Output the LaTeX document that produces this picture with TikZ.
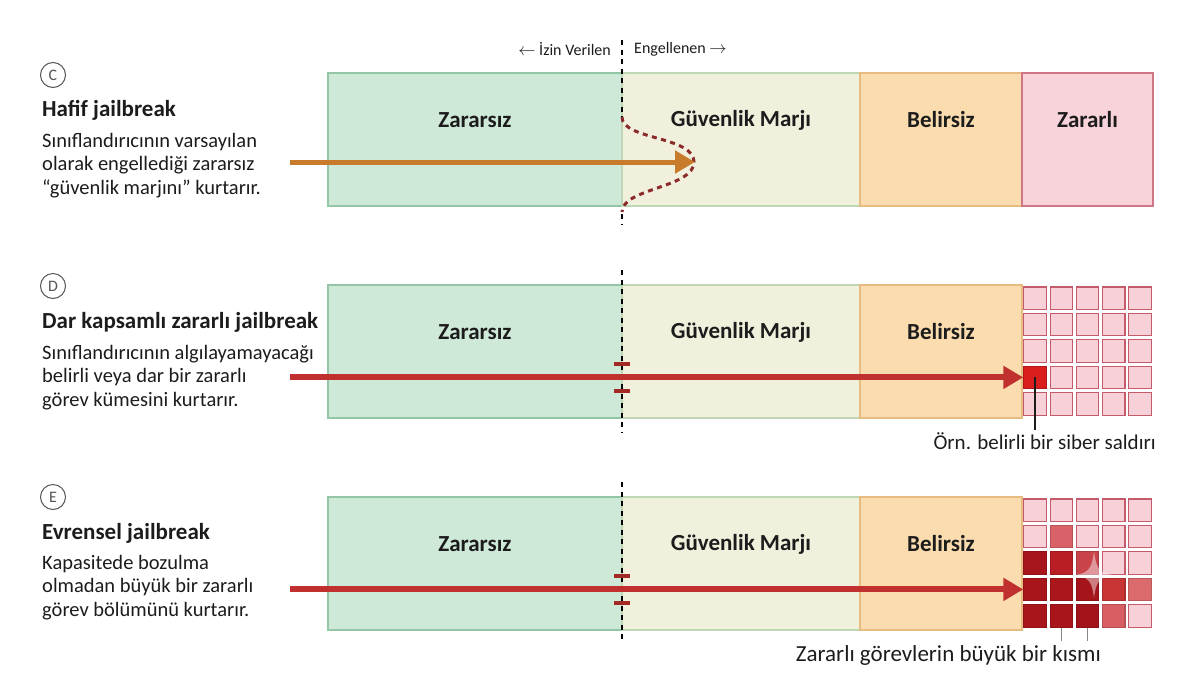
\documentclass[tikz,border=0pt]{standalone}
\usepackage{fontspec}
\setmainfont{Carlito}
\usetikzlibrary{arrows.meta,calc}
\definecolor{ink}{HTML}{1C1C1C}
\definecolor{muted}{HTML}{555555}
\definecolor{safe}{HTML}{CFE9D8}
\definecolor{safeline}{HTML}{93C6A4}
\definecolor{margin}{HTML}{F1F0DC}
\definecolor{marginline}{HTML}{BFD7B4}
\definecolor{unsure}{HTML}{FADCAE}
\definecolor{unsureline}{HTML}{E6BC80}
\definecolor{harm}{HTML}{F9D3DA}
\definecolor{harmline}{HTML}{CF7585}
\definecolor{cellfill}{HTML}{F8D1D8}
\definecolor{cellline}{HTML}{C45A6A}
\definecolor{mild}{HTML}{C97B2C}
\definecolor{alarm}{HTML}{C0302E}
\definecolor{curve}{HTML}{8A2A2A}
\definecolor{hot}{HTML}{DA1D1D}
\tikzset{
  x=1pt, y=-1pt,
  title/.style={font=\fontsize{23}{26}\selectfont\bfseries, text=ink, anchor=west, inner sep=0pt},
  desc/.style={font=\fontsize{20.5}{23.5}\selectfont, text=ink, anchor=north west, align=left, inner sep=0pt},
  tag/.style={circle, draw=muted, line width=1pt, minimum size=25pt, inner sep=0pt,
    font=\fontsize{16}{16}\selectfont, text=muted},
  seg/.style={font=\fontsize{23}{26}\selectfont\bfseries, text=ink, inner sep=0pt},
  note/.style={font=\fontsize{21}{24}\selectfont, text=ink, inner sep=0pt},
  side/.style={font=\fontsize{16}{18}\selectfont, text=ink, inner sep=0pt},
  cell/.style={rectangle, minimum size=22.5pt, inner sep=0pt, fill=cellfill, draw=cellline, line width=1.1pt},
  border/.style={black, line width=2.8pt, dash pattern=on 5pt off 4.5pt},
  bump/.style={curve, line width=3pt, dash pattern=on 5pt off 4.5pt},
  gate/.style={alarm!85!black, line width=4pt},
  push/.style={line width=6pt, -{Triangle[length=20pt,width=22pt]}},
}

\begin{document}
\begin{tikzpicture}
\useasboundingbox (0,0) rectangle (1200,681);

\def\L{328}      % left end of the bars
\def\B{622}      % allowed / blocked border
\def\M{860}      % margin ends
\def\U{1022}     % uncertain ends
\def\R{1153}     % right end of the bars
\def\H{133}      % bar height

% ---------------- three bars ----------------
\foreach \p/\t in {c/73, d/285, e/497} {
  \filldraw[fill=safe, draw=safeline, line width=1.2pt] (\L,\t) rectangle (\B,\t+\H);
  \filldraw[fill=margin, draw=marginline, line width=1.2pt] (\B,\t) rectangle (\M,\t+\H);
  \filldraw[fill=unsure, draw=unsureline, line width=1.2pt] (\M,\t) rectangle (\U,\t+\H);
  \node[seg] (\p-safe) at ({(\L+\B)/2},\t+47) {Zararsız};
  \node[seg] (\p-margin) at ({(\B+\M)/2},\t+47) {Güvenlik Marjı};
  \node[seg] (\p-unsure) at ({(\M+\U)/2},\t+47) {Belirsiz};
}
\filldraw[fill=harm, draw=harmline, line width=1.2pt] (\U,73) rectangle (\R,73+\H);
\node[seg] (c-harm) at ({(\U+\R)/2},120) {Zararlı};

% 5x5 harmful task cells for (D) and (E)
\foreach \p/\t in {d/285, e/497} {
  \foreach \r in {1,...,5} {
    \foreach \c in {1,...,5} {
      \node[cell] (\p-\r-\c) at ({\U+26.2*(\c-0.5)},{\t+26.4*(\r-0.5)}) {};
    }
  }
}

% ---------------- (C) mild jailbreak ----------------
\node[tag] (c-tag) at (53,75) {C};
\node[title] (c-title) at (42,110) {Hafif jailbreak};
\node[desc] (c-desc) at (42,133) {Sınıflandırıcının varsayılan\\olarak engellediği zararsız\\“güvenlik marjını” kurtarır.};
\node[side, anchor=east] (allowed) at (611,49) {$\leftarrow$ İzin Verilen};
\node[side, anchor=west] (blocked) at (634,49) {Engellenen $\rightarrow$};
\draw[border] (\B,40) -- (\B,117);
\draw[bump] (\B,117) .. controls (\B,140) and (694,136) .. (694,162)
  .. controls (694,188) and (\B,188) .. (\B,212);
\draw[border] (\B,214) -- (\B,224);
\coordinate (c-in) at (290,162);
\coordinate (c-tip) at (695,162);
\draw[push, line width=5pt, mild] (c-in) -- (c-tip);

% ---------------- (D) narrow harmful jailbreak ----------------
\node[tag] (d-tag) at (53,286) {D};
\node[title] (d-title) at (42,322) {Dar kapsamlı zararlı jailbreak};
\node[desc] (d-desc) at (42,345) {Sınıflandırıcının algılayamayacağı\\belirli veya dar bir zararlı\\görev kümesini kurtarır.};
\draw[border] (\B,270) -- (\B,432);
\node[cell, fill=hot, draw=hot!80!black] at (d-4-1) {};
\draw[gate] (\B-8,364) -- (\B+8,364);
\draw[gate] (\B-8,391) -- (\B+8,391);
\coordinate (d-in) at (290,0 |- d-4-1.west);
\draw[push, alarm] (d-in) -- (d-4-1.west);
\node[note, anchor=east] (d-note) at (1156,441) {Örn. belirli bir siber saldırı};
\draw[ink, line width=1.3pt] (d-4-1.center) -- (d-4-1.center |- 0,430);

% ---------------- (E) universal jailbreak ----------------
\node[tag] (e-tag) at (53,497) {E};
\node[title] (e-title) at (42,533) {Evrensel jailbreak};
\node[desc] (e-desc) at (42,555) {Kapasitede bozulma\\olmadan büyük bir zararlı\\görev bölümünü kurtarır.};
\draw[border] (\B,482) -- (\B,642);
% most of the grid is reached
\foreach \r/\c/\col in {2/2/D96268, 3/1/A8161D, 3/2/BA1E25, 3/3/C8434A,
    4/1/A8161C, 4/2/AA161C, 4/3/A5141B, 4/4/C93535, 4/5/DA6A6C,
    5/1/A8161C, 5/2/A8161C, 5/3/A2131B, 5/4/D75E62} {
  \definecolor{tmp}{HTML}{\col}
  \node[cell, fill=tmp, draw=tmp!85!black] at (e-\r-\c) {};
}
% sparkle
\fill[white, opacity=0.45] (1094,551) .. controls (1096,568) and (1099,573) .. (1113,575)
  .. controls (1099,577) and (1096,582) .. (1094,598)
  .. controls (1092,582) and (1089,577) .. (1075,575)
  .. controls (1089,573) and (1092,568) .. (1094,551) -- cycle;
\draw[gate] (\B-8,576) -- (\B+8,576);
\draw[gate] (\B-8,603) -- (\B+8,603);
\coordinate (e-in) at (290,0 |- e-4-1.west);
\draw[push, alarm] (e-in) -- (e-4-1.west);
\node[note, anchor=east, font=\fontsize{23}{26}\selectfont] (e-note) at (1101,655) {Zararlı görevlerin büyük bir kısmı};
\draw[muted!70, line width=1.3pt] (e-5-2.south) -- (e-5-2.south |- 0,641);
\draw[muted!70, line width=1.3pt] (e-5-3.south) -- (e-5-3.south |- 0,641);

\end{tikzpicture}
\end{document}
